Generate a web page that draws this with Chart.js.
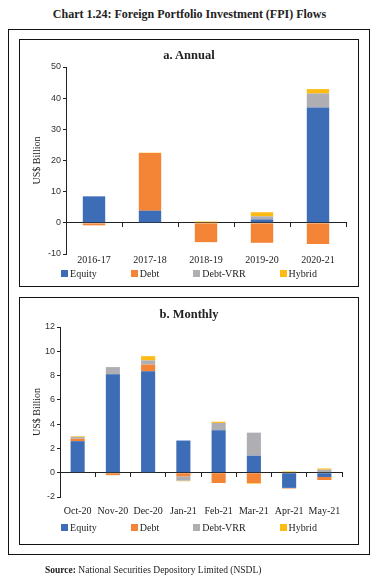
<!DOCTYPE html>
<html lang="en">
<head>
    <meta charset="UTF-8">
    <title>Chart 1.24: Foreign Portfolio Investment (FPI) Flows</title>
    <script src="https://cdn.jsdelivr.net/npm/chart.js@4.4.1/dist/chart.umd.min.js"></script>
    <style>
        body {
            margin: 0;
            width: 379px;
            height: 585px;
            background: #fff;
            position: relative;
            font-family: "Liberation Serif", serif;
            color: #222;
        }
        .main-title {
            position: absolute;
            top: 7px;
            left: 0;
            width: 379px;
            text-align: center;
            font-weight: bold;
            font-size: 12px;
        }
        .outer {
            position: absolute;
            left: 8px;
            top: 29px;
            width: 360px;
            height: 524px;
            border: 1.5px solid #111;
        }
        .panel {
            position: absolute;
            left: 19px;
            width: 338px;
            border: 1.5px solid #111;
        }
        .panel-title {
            position: absolute;
            left: 0;
            width: 100%;
            text-align: center;
            font-weight: bold;
            font-size: 12.5px;
        }
        .panel canvas {
            position: absolute;
            left: 0;
            top: 0;
        }
        .legend {
            position: absolute;
            left: 0;
            width: 100%;
            display: flex;
            justify-content: center;
            gap: 34px;
            font-size: 10px;
            line-height: 12px;
        }
        .legend span.box {
            display: inline-block;
            width: 7px;
            height: 7px;
            margin-right: 2px;
        }
        .source {
            position: absolute;
            left: 45px;
            top: 565px;
            font-size: 9.5px;
        }
    </style>
</head>
<body>
    <div class="main-title">Chart 1.24: Foreign Portfolio Investment (FPI) Flows</div>
    <div class="outer"></div>

    <!-- a. Annual -->
    <div class="panel" style="top: 39px; height: 246px;">
        <canvas id="annualChart" width="338" height="246"></canvas>
        <div class="panel-title" style="top: 8px;">a. Annual</div>
        <div class="legend" id="annualLegend" style="top: 228px;"></div>
    </div>

    <!-- b. Monthly -->
    <div class="panel" style="top: 297px; height: 246px;">
        <canvas id="monthlyChart" width="338" height="246"></canvas>
        <div class="panel-title" style="top: 9px;">b. Monthly</div>
        <div class="legend" id="monthlyLegend" style="top: 224px;"></div>
    </div>

    <div class="source"><b>Source:</b> National Securities Depository Limited (NSDL)</div>

    <script>
        // Annual data (US$ billion)
        const years = ['2016-17', '2017-18', '2018-19', '2019-20', '2020-21'];
        const equityA = [8.5, 3.9, 0, 1.1, 37.0];
        const debtA = [-0.8, 18.5, -6.2, -6.4, -6.8];
        const vrrA = [0, 0, 0, 1.0, 4.5];
        const hybridA = [0, 0.1, 0.4, 1.3, 1.4];

        // Monthly data (US$ billion)
        const months = ['Oct-20', 'Nov-20', 'Dec-20', 'Jan-21', 'Feb-21', 'Mar-21', 'Apr-21', 'May-21'];
        const equityM = [2.6, 8.1, 8.35, 2.65, 3.5, 1.4, -1.25, -0.35];
        const debtM = [0.2, -0.2, 0.55, -0.3, -0.85, -0.85, -0.05, -0.25];
        const vrrM = [0.15, 0.6, 0.35, -0.35, 0.6, 1.9, 0, 0.25];
        const hybridM = [0.05, 0, 0.35, -0.05, 0.1, -0.05, 0.1, 0.1];

        const seriesNames = ['Equity', 'Debt', 'Debt-VRR', 'Hybrid'];
        const colors = ['#3D6DB6', '#F48436', '#AFAFB3', '#FDBB13'];

        const serif = 'Liberation Serif';

        function makeDatasets(lists) {
            return lists.map((d, i) => ({
                label: seriesNames[i],
                data: d,
                backgroundColor: colors[i],
                borderWidth: 0,
                categoryPercentage: 1,
                barPercentage: 0.4
            }));
        }

        function buildLegend(id) {
            const el = document.getElementById(id);
            seriesNames.forEach((name, i) => {
                const item = document.createElement('div');
                item.innerHTML = '<span class="box" style="background:' + colors[i] + '"></span>' + name;
                el.appendChild(item);
            });
        }

        function makeChart(canvasId, labels, lists, yMin, yMax, step, cfg) {
            return new Chart(document.getElementById(canvasId), {
                type: 'bar',
                data: {
                    labels: labels,
                    datasets: makeDatasets(lists)
                },
                options: {
                    responsive: false,
                    animation: false,
                    layout: {
                        padding: { left: 0, top: cfg.top, right: cfg.right, bottom: 0 }
                    },
                    plugins: {
                        legend: { display: false },
                        tooltip: { enabled: false }
                    },
                    scales: {
                        // axis line drawn at zero with tick marks between categories
                        x: {
                            type: 'category',
                            stacked: true,
                            offset: true,
                            position: { y: 0 },
                            grid: {
                                offset: true,
                                drawOnChartArea: false,
                                drawTicks: true,
                                tickLength: 4,
                                color: '#222'
                            },
                            border: { display: true, color: '#222', width: 1 },
                            ticks: { display: false }
                        },
                        // category labels at the bottom
                        x2: {
                            type: 'category',
                            labels: labels,
                            position: 'bottom',
                            offset: true,
                            grid: { display: false, drawTicks: false },
                            border: { display: false },
                            ticks: {
                                padding: cfg.labelPad,
                                maxRotation: 0,
                                autoSkip: false,
                                color: '#222',
                                font: { family: serif, size: 10 }
                            },
                            afterFit: function(scale) { scale.height = cfg.bottom; }
                        },
                        y: {
                            stacked: true,
                            min: yMin,
                            max: yMax,
                            ticks: {
                                stepSize: step,
                                padding: 2,
                                color: '#333',
                                font: { family: 'Liberation Sans', size: 9 }
                            },
                            grid: {
                                drawOnChartArea: false,
                                drawTicks: true,
                                tickLength: 3,
                                color: '#222'
                            },
                            border: { display: true, color: '#222', width: 1 },
                            title: {
                                display: true,
                                text: 'US$ Billion',
                                color: '#222',
                                padding: { top: cfg.titlePad, bottom: 0 },
                                font: { family: serif, size: 10 }
                            },
                            afterFit: function(scale) { scale.width = cfg.yWidth; }
                        }
                    }
                }
            });
        }

        makeChart('annualChart', years, [equityA, debtA, vrrA, hybridA], -10, 50, 10,
            { top: 27, right: 12, bottom: 32, yWidth: 46, titlePad: 11.5, labelPad: 0 });
        makeChart('monthlyChart', months, [equityM, debtM, vrrM, hybridM], -2, 12, 2,
            { top: 29, right: 16, bottom: 47, yWidth: 40, titlePad: 11, labelPad: 8 });

        buildLegend('annualLegend');
        buildLegend('monthlyLegend');
    </script>
</body>
</html>
